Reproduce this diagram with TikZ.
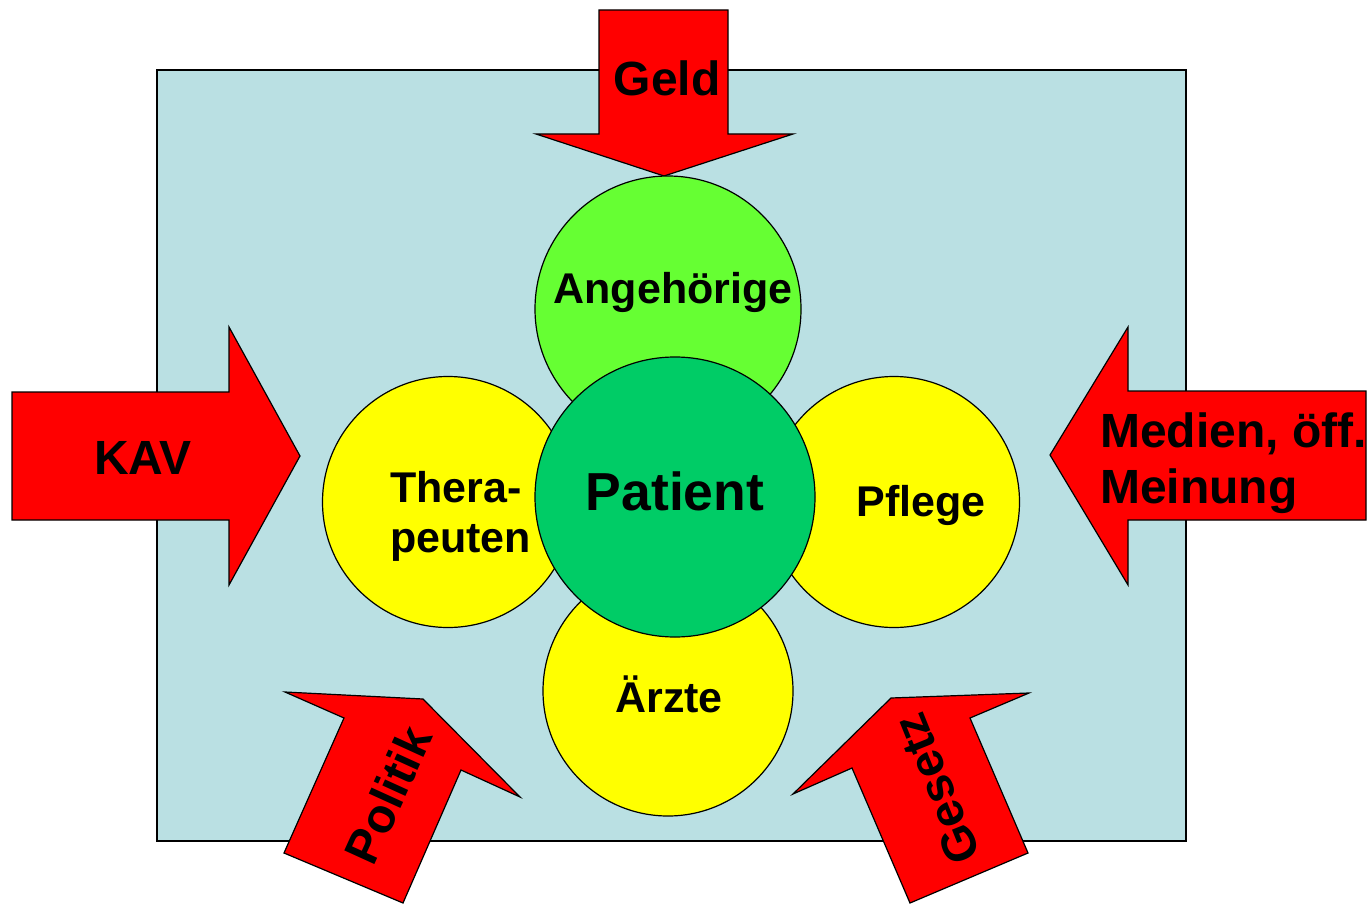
\documentclass[tikz,border=0pt]{standalone}
\usepackage{fontspec}
\setmainfont{Liberation Sans}
\definecolor{bgblue}{RGB}{186,224,227}
\definecolor{lightgreen}{RGB}{102,255,51}
\definecolor{darkgreen}{RGB}{0,204,102}
\definecolor{pureyellow}{RGB}{255,255,0}
\definecolor{purered}{RGB}{255,0,0}
\tikzset{
  arrowshape/.style={fill=purered, draw=black, line width=1.2pt, line join=miter},
  disc/.style={circle, draw=black, line width=1.2pt, inner sep=0pt},
  biglbl/.style={font=\bfseries\fontsize{48}{56}\selectfont, inner sep=0pt},
  midlbl/.style={font=\bfseries\fontsize{43}{50}\selectfont, inner sep=0pt},
  toplbl/.style={font=\bfseries\fontsize{53.5}{60}\selectfont, inner sep=0pt},
}
\begin{document}
\begin{tikzpicture}[x=1pt,y=-1pt]
\useasboundingbox (0,0) rectangle (1367,904);
% background panel
\draw[fill=bgblue, draw=black, line width=1.2pt] (157,70) rectangle (1186,841);

% arrows
\draw[arrowshape] (599,10) -- (728,10) -- (728,134) -- (793,134) -- (664,176) -- (536,134) -- (599,134) -- cycle;
\draw[arrowshape] (12,392) -- (229,392) -- (229,327) -- (300,456) -- (229,585) -- (229,520) -- (12,520) -- cycle;
\draw[arrowshape] (1366,391) -- (1128,391) -- (1128,327) -- (1050,455) -- (1128,585) -- (1128,520) -- (1366,520) -- cycle;
\draw[arrowshape] (423,699) -- (520,797) -- (461,770) -- (403,903) -- (284,853) -- (344,718) -- (285,692) -- cycle;
\draw[arrowshape] (891,698) -- (1029,693) -- (970,718) -- (1028,853) -- (910,903) -- (852,768) -- (793,794) -- cycle;

% arrow labels
\node[biglbl, anchor=base] (geld) at (667,96) {Geld};
\node[biglbl, anchor=base] (kav) at (143,474) {KAV};
\node[biglbl, anchor=base west] (medien) at (1100,447) {Medien, öff.};
\node[biglbl, anchor=base west] (meinung) at (1100,503) {Meinung};
\node[biglbl, rotate=65.5] (politik) at (388,795) {Politik};
\node[biglbl, rotate=112] (gesetz) at (937,789) {Gesetz};

% circles
\node[disc, fill=lightgreen, minimum size=266pt] (ang) at (668,309) {};
\node[disc, fill=pureyellow, minimum size=250pt] (aerzte) at (668,691) {};
\node[disc, fill=pureyellow, minimum size=251pt] (thera) at (448,502) {};
\node[disc, fill=pureyellow, minimum size=251pt] (pflege) at (894,502) {};
\node[disc, fill=darkgreen, minimum size=280pt] (patient) at (675,497) {};

% circle labels
\node[midlbl, anchor=base] (angtxt) at (673,303) {Angehörige};
\node[midlbl, anchor=base] (aerztetxt) at (669,712) {Ärzte};
\node[midlbl, anchor=base west] (theratxt) at (390,502) {Thera-};
\node[midlbl, anchor=base west] (peutentxt) at (390,552) {peuten};
\node[midlbl, anchor=base] (pflegetxt) at (921,516) {Pflege};
\node[toplbl, anchor=base] (patienttxt) at (675,510) {Patient};
\end{tikzpicture}
\end{document}
